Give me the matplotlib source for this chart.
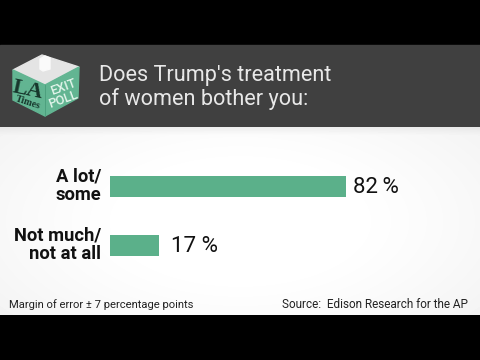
import numpy as np
import matplotlib
matplotlib.use("Agg")
import matplotlib.pyplot as plt
from matplotlib.patches import Polygon, Rectangle
from matplotlib.transforms import ScaledTranslation

categories = ["A lot/\nsome", "Not much/\nnot at all"]
values = [82, 17]
value_labels = ["82\u2009%", "17 %"]
title = "Does Trump's treatment\nof women bother you:"
note = "Margin of error \u00b1 7 percentage points"
source = "Source:  Edison Research for the AP"

W, H = 480, 360
FONT = "Roboto"
fig = plt.figure(figsize=(W / 100, H / 100), dpi=100, facecolor="black")

# pixel-space canvas, y downward
bg = fig.add_axes([0, 0, 1, 1])
bg.axis("off")
bg.add_patch(Rectangle((0, 0), W, H, color="black", zorder=0))
bg.add_patch(Rectangle((0, 45), W, 82, color="#404040", zorder=1))
yy, xx = np.mgrid[0:188, 0:480]
dist = np.hypot((xx - 240) / 300, (yy - 94) / 150)
shade = 1 - 0.075 * np.clip(dist - 0.35, 0, 1) ** 1.2
shade[:8] -= (8 - np.arange(8))[:, None] * 0.006
bg.imshow(shade, cmap="gray", vmin=0, vmax=1, extent=(0, 480, 315, 127),
          aspect="auto", zorder=1, interpolation="bilinear")
bg.set_xlim(0, W)
bg.set_ylim(H, 0)

# ballot-box logo
bg.add_patch(Polygon([(13, 70), (42, 55), (79, 67), (45, 85)], color="#e4e4e4", zorder=3))
bg.add_patch(Polygon([(13, 70), (45, 85), (45, 116), (13, 100)], color="#62b592", zorder=3))
bg.add_patch(Polygon([(45, 85), (79, 67), (78, 98), (45, 116)], color="#62b592", zorder=3))
bg.add_patch(Polygon([(40, 59), (45, 56), (50, 58), (50, 69), (43, 71), (40, 69)],
                     color="#fafafa", zorder=4))
bg.plot([45, 45], [85, 116], color="#4a9c7b", lw=0.6, zorder=4)

bg.text(28, 90, "LA", family="Liberation Serif", weight="bold", fontsize=16, color="#17372c",
        ha="center", va="center", rotation=-12, rotation_mode="anchor", zorder=5)
bg.text(28, 103, "Times", family="Liberation Serif", weight="bold", fontsize=7.2, color="#17372c",
        ha="center", va="center", rotation=-18, rotation_mode="anchor", zorder=5)
bg.text(63, 87, "EXIT", family=FONT, fontsize=9.2, color="#e4f5ec", weight="medium",
        ha="center", va="center", rotation=20, rotation_mode="anchor", zorder=5)
bg.text(63, 100, "POLL", family=FONT, fontsize=9.2, color="#e4f5ec", weight="medium",
        ha="center", va="center", rotation=20, rotation_mode="anchor", zorder=5)

# title and footers
bg.text(99, 87.5, title, family=FONT, fontsize=15.6, color="#e8e8e8", ha="left", va="center",
        linespacing=1.12, zorder=5)
bg.text(9, 304.5, note, family=FONT, fontsize=8.15, color="#222222", ha="left", va="center", zorder=5)
bg.text(468, 304.5, source, family=FONT, fontsize=8.5, color="#222222", ha="right", va="center", zorder=5)

# bars
ax = fig.add_axes([110 / W, 1 - 290 / H, 287.8 / W, 140 / H])
ax.patch.set_alpha(0)
ax.set_xlim(0, 100)
ax.set_ylim(1.754, -0.619)
ypos = np.arange(len(values))
ax.barh(ypos, values, height=0.356, color="#5bb08a")
ax.set_yticks(ypos, categories, family=FONT, fontsize=13.2, weight="bold", color="#111111",
              linespacing=1.05, ha="right")
ax.tick_params(axis="y", length=0, pad=6.5)
lift = ScaledTranslation(0, 2.5 / 72, fig.dpi_scale_trans)
for t in ax.get_yticklabels():
    t.set_transform(t.get_transform() + lift)
ax.xaxis.set_visible(False)
for s in ax.spines.values():
    s.set_visible(False)
label_gaps = [5, 8.5]
for y, v, lab, gap in zip(ypos, values, value_labels, label_gaps):
    ax.annotate(lab, (v, y), xytext=(gap, -0.7), textcoords="offset points", family=FONT,
                fontsize=16, color="#111111", ha="left", va="center")

fig.savefig("out.png", dpi=100, facecolor="black")
